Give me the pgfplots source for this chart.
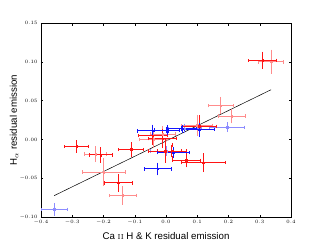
\documentclass[border=0pt]{standalone}
\usepackage{fontspec}
\usepackage{pgfplots}
\usepackage{pgfplotstable}
\pgfplotsset{compat=1.18}
\newfontfamily\labelfont{Liberation Sans}

\pgfplotstableread{
x y ex ey
0.309 0.102 0.045 0.009
0.107 0.017 0.053 0.012
0.119 -0.030 0.071 0.010
-0.286 -0.009 0.038 0.006
-0.209 -0.020 0.037 0.008
-0.153 -0.056 0.045 0.009
-0.112 -0.013 0.040 0.007
-0.011 0.001 0.044 0.010
0.064 -0.027 0.045 0.007
-0.003 -0.015 0.053 0.013
0.019 -0.015 0.045 0.008
-0.042 0.005 0.045 0.010
}\reddark

\pgfplotstableread{
x y ex ey
0.336 0.100 0.039 0.0135
0.175 0.0435 0.040 0.009
0.210 0.030 0.043 0.007
-0.225 -0.019 0.035 0.008
-0.200 -0.042 0.069 0.0155
-0.139 -0.072 0.043 0.0097
0.100 0.018 0.050 0.011
-0.040 0.000 0.045 0.009
-0.010 0.007 0.040 0.008
}\redlight

\pgfplotstableread{
x y ex ey
-0.042 0.011 0.050 0.006
0.003 0.012 0.040 0.004
0.023 -0.017 0.052 0.005
-0.027 -0.038 0.043 0.006
0.107 0.0125 0.048 0.007
0.051 0.014 0.045 0.003
}\bluedark

\pgfplotstableread{
x y ex ey
0.196 0.0156 0.056 0.004
0.060 0.014 0.053 0.004
-0.358 -0.090 0.041 0.006
0.000 -0.015 0.050 0.004
}\bluelight

\definecolor{lred}{RGB}{255,140,140}
\definecolor{lblue}{RGB}{140,140,255}
\definecolor{dred}{RGB}{255,20,20}
\definecolor{dblue}{RGB}{20,20,255}

\pgfplotsset{
  ebx/.style={color=#1, only marks, mark=square*, mark size=0.8pt,
    error bars/.cd, x dir=both, x explicit,
    error bar style={color=#1, line width=0.9pt},
    error mark options={color=#1, mark size=1.7pt, line width=0.8pt, rotate=90}},
  eby/.style={color=#1, only marks, mark=square*, mark size=0.8pt,
    error bars/.cd, y dir=both, y explicit,
    error bar style={color=#1, line width=0.9pt},
    error mark options={color=#1, mark size=1.7pt, line width=0.8pt}},
}

\begin{document}
\begin{tikzpicture}
\path[use as bounding box] (-41pt,-25pt) rectangle (282pt,217pt);
\begin{axis}[
  at={(0pt,0pt)}, anchor=south west,
  scale only axis, width=250pt, height=194pt,
  xmin=-0.4, xmax=0.4, ymin=-0.10, ymax=0.15,
  xtick={-0.4,-0.3,...,0.41}, ytick={-0.10,-0.05,...,0.151},
  xticklabel style={/pgf/number format/.cd, fixed, fixed zerofill, precision=1},
  yticklabel style={/pgf/number format/.cd, fixed, fixed zerofill, precision=2},
  tick label style={font=\fontsize{5.5}{6}\selectfont},
  tick align=inside, major tick length=2.5pt,
  axis line style={black, line width=0.6pt},
  every tick/.style={black, line width=0.4pt},
  xlabel={\labelfont Ca \textrm{\textsc{ii}} H \& K residual emission},
  ylabel={\labelfont H$_\alpha$ residual emission},
  label style={font=\fontsize{9.7}{11}\selectfont},
  xlabel style={at={(axis description cs:0.5,0)}, anchor=base, yshift=-22pt},
  ylabel style={at={(axis description cs:-0.108,0.5)}, anchor=center},
]
\addplot[black, line width=0.5pt] coordinates {(-0.358,-0.0725) (0.336,0.064)};
\addplot[ebx=lred] table[x=x, y=y, x error=ex]{\redlight};
\addplot[eby=lred] table[x=x, y=y, y error=ey]{\redlight};
\addplot[ebx=lblue] table[x=x, y=y, x error=ex]{\bluelight};
\addplot[eby=lblue] table[x=x, y=y, y error=ey]{\bluelight};
\addplot[ebx=dred] table[x=x, y=y, x error=ex]{\reddark};
\addplot[eby=dred] table[x=x, y=y, y error=ey]{\reddark};
\addplot[ebx=dblue] table[x=x, y=y, x error=ex]{\bluedark};
\addplot[eby=dblue] table[x=x, y=y, y error=ey]{\bluedark};
\end{axis}
\end{tikzpicture}
\end{document}
